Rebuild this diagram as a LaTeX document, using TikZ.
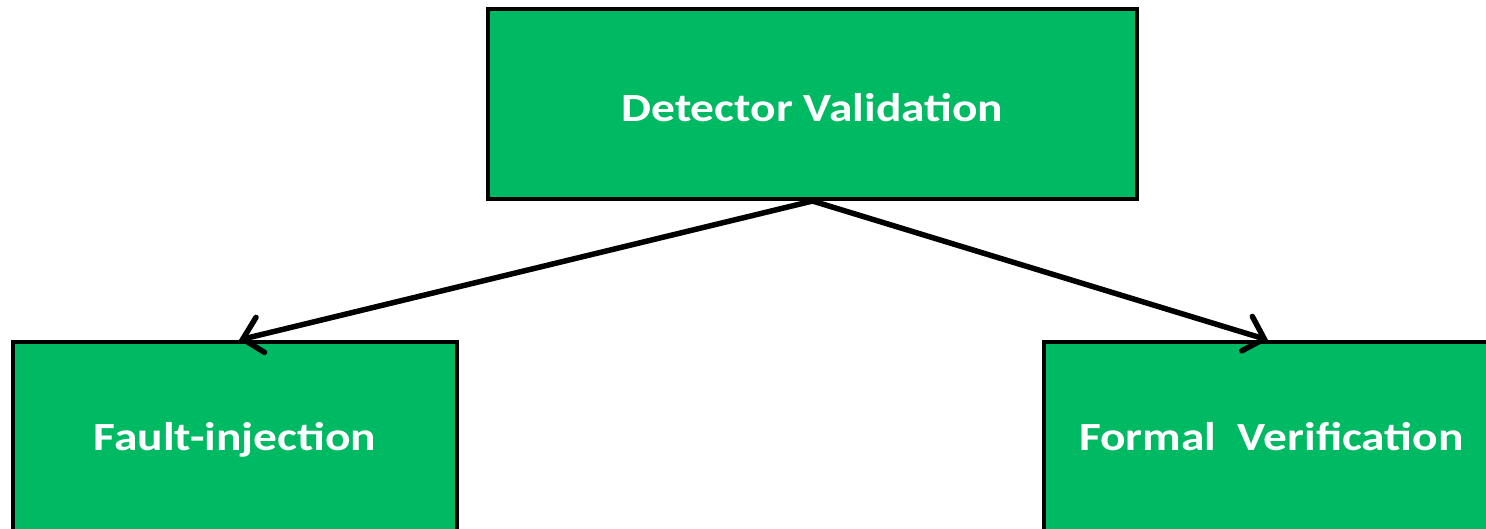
\documentclass[tikz,border=0pt]{standalone}
\usepackage{graphicx}
\usepackage{fontspec}
\setmainfont{Carlito}
\usetikzlibrary{arrows.meta}
\definecolor{boxgreen}{HTML}{00B963}
% slightly widened bold lettering
\newcommand{\widetext}[1]{\scalebox{1.187}[1]{#1}}
\begin{document}
\begin{tikzpicture}[x=1pt,y=-1pt,
  block/.style={draw=black, line width=4pt, fill=boxgreen, text=white,
    font=\fontsize{40}{48}\selectfont\bfseries, inner sep=0pt,
    minimum width=444pt, minimum height=190pt, text depth=2.6pt, text height=30pt},
  link/.style={line width=5.5pt, line cap=round,
    -{Straight Barb[length=18pt, width=36pt, line cap=round]}}]
\useasboundingbox (0,0) rectangle (1486,528);
\begin{scope}
  \clip (0,0) rectangle (1486,528);
  \node[block, minimum width=649pt, text height=38pt, text depth=2.8pt]
    (top) at (812.5,104) {\widetext{Detector Validation}};
  \node[block] (fault) at (235,437) {\widetext{Fault-injection}};
  \node[block, minimum width=455pt] (formal) at (1271.5,437) {\widetext{Formal\ \ Verification}};
  \draw[link] (top.south) -- ([xshift=4pt]fault.north);
  \draw[link] (top.south) -- ([xshift=-3.5pt]formal.north);
\end{scope}
\end{tikzpicture}
\end{document}
